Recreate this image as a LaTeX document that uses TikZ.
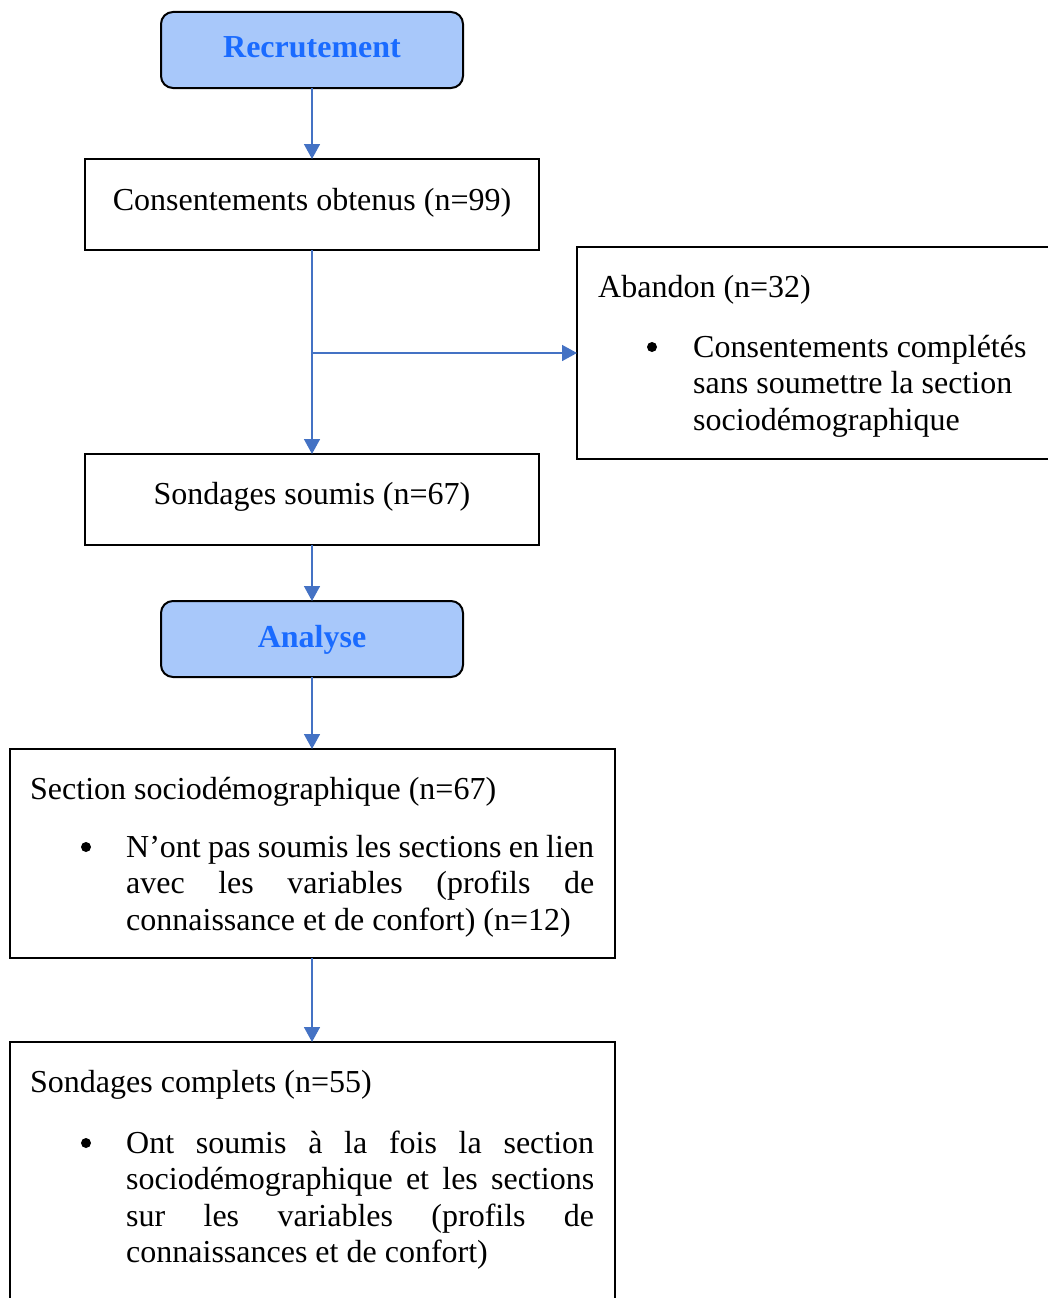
\documentclass[tikz,border=0pt]{standalone}
\usepackage{fontspec}
\setmainfont{Liberation Serif}
\usetikzlibrary{arrows.meta}
\definecolor{hdrfill}{HTML}{A8C8FA}
\definecolor{hdrtext}{HTML}{1A6BFF}
\definecolor{linkblue}{HTML}{4472C4}
\newcommand{\bodyfont}{\fontsize{32}{36.6}\selectfont}
\newcommand{\jline}[1]{\makebox[\linewidth][s]{#1}}
\begin{document}
\begin{tikzpicture}[x=1pt,y=1pt,
  frame/.style={draw=black, line width=2pt, inner sep=0pt, outer sep=0pt},
  phase/.style={frame, rounded corners=12pt, fill=hdrfill},
  hdr/.style={font=\bfseries\bodyfont, text=hdrtext, inner sep=0pt, anchor=base},
  txt/.style={font=\bodyfont, inner sep=0pt, anchor=base},
  lefttxt/.style={font=\bodyfont, inner sep=0pt, anchor=base west},
  bul/.style={circle, fill=black, inner sep=0pt, minimum size=10pt},
  conn/.style={draw=linkblue, line width=1.6pt, -{Triangle[width=16pt,length=15pt]}}]
\useasboundingbox (0,0) rectangle (1048,-1298);
\clip (0,0) rectangle (1048,-1298);

% boxes
\node[phase, minimum width=302pt, minimum height=76pt] (recr) at (312,-50) {};
\node[frame, minimum width=454pt, minimum height=91pt] (consent) at (312,-204.5) {};
\node[frame, minimum width=483pt, minimum height=212pt] (abandon) at (818.5,-353) {};
\node[frame, minimum width=454pt, minimum height=91pt] (soumis) at (312,-499.5) {};
\node[phase, minimum width=302pt, minimum height=76pt] (analyse) at (312,-639) {};
\node[frame, minimum width=605pt, minimum height=209pt] (socio) at (312,-853.5) {};
\node[frame, minimum width=605pt, minimum height=268pt] (complets) at (312,-1176) {};

% texts
\node[hdr] (recrtxt) at (312,-58) {Recrutement};
\node[txt] (consenttxt) at (312,-210) {Consentements obtenus (n=99)};
\node[lefttxt] (abtitle) at (598,-297) {Abandon (n=32)};
\node[bul] (abbul) at (652,-347) {};
\node[lefttxt] (abtxt) at (693,-357) {\parbox[t]{340pt}{\bodyfont
  Consentements complétés\\
  sans soumettre la section\\
  sociodémographique}};
\node[txt] (soumistxt) at (312,-504) {Sondages soumis (n=67)};
\node[hdr] (analysetxt) at (312,-647) {Analyse};
\node[lefttxt] (sociotitle) at (30,-799) {Section sociodémographique (n=67)};
\node[bul] (sociobul) at (86,-847) {};
\node[lefttxt] (sociotxt) at (126,-857) {\parbox[t]{468pt}{\bodyfont
  \jline{N’ont pas soumis les sections en lien}\\
  \jline{avec les variables (profils de}\\
  connaissance et de confort) (n=12)}};
\node[lefttxt] (comptitle) at (30,-1092) {Sondages complets (n=55)};
\node[bul] (compbul) at (86,-1143) {};
\node[lefttxt] (comptxt) at (126,-1153) {\parbox[t]{468pt}{\bodyfont
  \jline{Ont soumis à la fois la section}\\
  \jline{sociodémographique et les sections}\\
  \jline{sur les variables (profils de}\\
  connaissances et de confort)}};

% connectors
\draw[conn] (recr.south) -- (consent.north);
\draw[conn] (consent.south) -- (soumis.north);
\draw[conn] (consent.south |- abandon.west) -- (abandon.west);
\draw[conn] (soumis.south) -- (analyse.north);
\draw[conn] (analyse.south) -- (socio.north);
\draw[conn] (socio.south) -- (complets.north);
\end{tikzpicture}
\end{document}
